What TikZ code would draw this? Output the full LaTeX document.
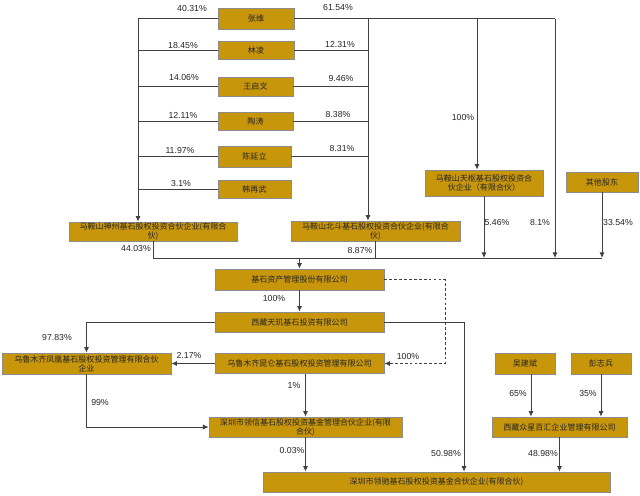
\documentclass[tikz,border=0pt]{standalone}
\usepackage{fontspec}
\setmainfont{Liberation Sans}
\newfontfamily\cjk{Noto Sans CJK SC}
\usetikzlibrary{calc,arrows.meta}
\definecolor{boxgold}{HTML}{C8960A}
\definecolor{linegray}{HTML}{404040}
\begin{document}
\begin{tikzpicture}[>={Latex[length=4pt,width=3.6pt]}, x=0.025cm, y=-0.025cm]

% --- Global TikZ Styles for Consistency ---
\tikzset{
    entity/.style={fill=boxgold, draw=black!45, line width=0.5pt, inner sep=0pt,
        align=center, text=black!85, font=\cjk\fontsize{5.7}{6.3}\selectfont},
    pct/.style={inner sep=0pt, text=black!85, font=\fontsize{6.2}{7}\selectfont},
    link/.style={draw=linegray, line width=0.6pt},
    arrow/.style={->, draw=linegray, line width=0.6pt},
    dasharrow/.style={->, draw=linegray, line width=0.6pt, dash pattern=on 2pt off 1.5pt}
}

    \useasboundingbox (0,0) rectangle (640,495);

    % Natuurlijke personen
    \node[entity, minimum width=1.9cm, minimum height=0.525cm] (zw) at (256,18.5) {张维};
    \node[entity, minimum width=1.9cm, minimum height=0.45cm] (ll) at (256,50.5) {林凌};
    \node[entity, minimum width=1.875cm, minimum height=0.475cm] (wqw) at (255.5,86.5) {王启文};
    \node[entity, minimum width=1.875cm, minimum height=0.45cm] (tt) at (255.5,121) {陶涛};
    \node[entity, minimum width=1.825cm, minimum height=0.525cm] (cyl) at (254.5,156.5) {陈延立};
    \node[entity, minimum width=1.825cm, minimum height=0.45cm] (hzw) at (254.5,189) {韩再武};

    % Hulpcoordinaten voor de verzamellijnen
    \coordinate (lbus) at (138,0);
    \coordinate (rbus) at (368,0);
    \coordinate (tsx) at (477,0);
    \coordinate (zwx) at (555,0);
    \coordinate (bus) at (0,258);
    \coordinate (dsx) at (445,0);
    \coordinate (lcx) at (464,0);

    % Partnerschappen
    \node[entity, minimum width=4.2cm, minimum height=0.475cm] (szj) at (153,231.5)
        {马鞍山神州基石股权投资合伙企业(有限合\\伙)};
    \node[entity, minimum width=4.225cm, minimum height=0.5cm] (bd) at (375.5,231)
        {马鞍山北斗基石股权投资合伙企业(有限合\\伙)};
    \node[entity, minimum width=2.95cm, minimum height=0.65cm] (ts) at (484,183)
        {马鞍山天枢基石股权投资合\\伙企业（有限合伙）};
    \node[entity, minimum width=1.8cm, minimum height=0.5cm] (qt) at (602,182) {其他股东};

    % Beheermaatschappijen
    \node[entity, minimum width=4.225cm, minimum height=0.525cm] (js) at (299.5,279.5) {基石资产管理股份有限公司};
    \node[entity, minimum width=4.225cm, minimum height=0.5cm] (tj) at (299.5,322) {西藏天玑基石投资有限公司};
    \node[entity, minimum width=4.225cm, minimum height=0.525cm] (fh) at (86.5,363.5)
        {乌鲁木齐凤凰基石股权投资管理有限合伙\\企业};
    \node[entity, minimum width=4.225cm, minimum height=0.5cm] (kl) at (299.5,363.5) {乌鲁木齐昆仑基石股权投资管理有限公司};
    \node[entity, minimum width=4.825cm, minimum height=0.5cm] (lx) at (305.5,427)
        {深圳市领信基石股权投资基金管理合伙企业(有限\\合伙)};
    \node[entity, minimum width=1.5cm, minimum height=0.525cm] (wjb) at (525,363.5) {吴建斌};
    \node[entity, minimum width=1.5cm, minimum height=0.525cm] (pzb) at (601,363.5) {彭志兵};
    \node[entity, minimum width=3.375cm, minimum height=0.5cm] (zx) at (559.5,427) {西藏众星百汇企业管理有限公司};
    \node[entity, minimum width=8.675cm, minimum height=0.5cm] (lc) at (436.5,482) {深圳市领驰基石股权投资基金合伙企业(有限合伙)};

    % Personen naar de partnerschappen
    \foreach \p in {zw, ll, wqw, tt, cyl, hzw}
        \draw[link] (\p.west) -- (\p.west -| lbus);
    \foreach \p in {ll, wqw, tt, cyl}
        \draw[link] (\p.east) -- (\p.east -| rbus);
    \draw[link] (zw.east) -- (zw.east -| zwx);
    \draw[arrow] (lbus |- zw.west) -- (lbus |- szj.north);
    \draw[arrow] (rbus |- zw.east) -- (rbus |- bd.north);
    \draw[arrow] (tsx |- zw.east) -- (tsx |- ts.north);

    % Verzamellijn naar Jishi
    \draw[link] (szj.south) -- (szj.south |- bus) -- (qt.south |- bus);
    \draw[link] (bd.south) -- (bd.south |- bus);
    \draw[arrow] (ts.south) -- (ts.south |- bus);
    \draw[arrow] (zwx |- zw.east) -- (zwx |- bus);
    \draw[arrow] (qt.south) -- (qt.south |- bus);
    \draw[arrow] (js.north |- bus) -- (js.north);

    % Onderste structuur
    \draw[arrow] (js.south) -- (tj.north);
    \draw[dasharrow] (js.east) -| (dsx |- kl.east) -- (kl.east);
    \draw[arrow] (tj.west) -| (fh.north);
    \draw[arrow] (tj.east) -| (lcx |- lc.north);
    \draw[arrow] (kl.west) -- (fh.east);
    \draw[arrow] (lx.north |- kl.south) -- (lx.north);
    \draw[arrow] (fh.south) |- (lx.west);
    \draw[arrow] (lx.south) -- (lx.south |- lc.north);
    \draw[arrow] ([xshift=0.15cm]wjb.south) -- ([xshift=0.15cm]wjb.south |- zx.north);
    \draw[arrow] (pzb.south) -- (pzb.south |- zx.north);
    \draw[arrow] (zx.south) -- (zx.south |- lc.north);

    % Percentages
    \node[pct] (pzwl) at (192,8) {40.31\%};
    \node[pct] (plll) at (183,45) {18.45\%};
    \node[pct] (pwql) at (184,77) {14.06\%};
    \node[pct] (pttl) at (183,115) {12.11\%};
    \node[pct] (pcyl) at (180,150) {11.97\%};
    \node[pct] (phzl) at (181,183) {3.1\%};
    \node[pct] (pzwr) at (338,7) {61.54\%};
    \node[pct] (pllr) at (340,44) {12.31\%};
    \node[pct] (pwqr) at (341,78) {9.46\%};
    \node[pct] (pttr) at (338,114) {8.38\%};
    \node[pct] (pcyr) at (342,148) {8.31\%};
    \node[pct] (pts) at (463,117) {100\%};
    \node[pct] (pszj) at (136,248) {44.03\%};
    \node[pct] (pbd) at (360,250) {8.87\%};
    \node[pct] (ptsb) at (497,222) {5.46\%};
    \node[pct] (pzwb) at (540,222) {8.1\%};
    \node[pct] (pqt) at (618,222) {33.54\%};
    \node[pct] (pjs) at (274,298) {100\%};
    \node[pct] (ptjl) at (57,337) {97.83\%};
    \node[pct] (pklf) at (189,355) {2.17\%};
    \node[pct] (pjsk) at (408,356) {100\%};
    \node[pct] (pfh) at (100,402) {99\%};
    \node[pct] (pkll) at (294,385) {1\%};
    \node[pct] (plx) at (292,450) {0.03\%};
    \node[pct] (ptjr) at (446,453) {50.98\%};
    \node[pct] (pwj) at (518,393) {65\%};
    \node[pct] (ppz) at (588,393) {35\%};
    \node[pct] (pzx) at (543,453) {48.98\%};

\end{tikzpicture}
\end{document}
